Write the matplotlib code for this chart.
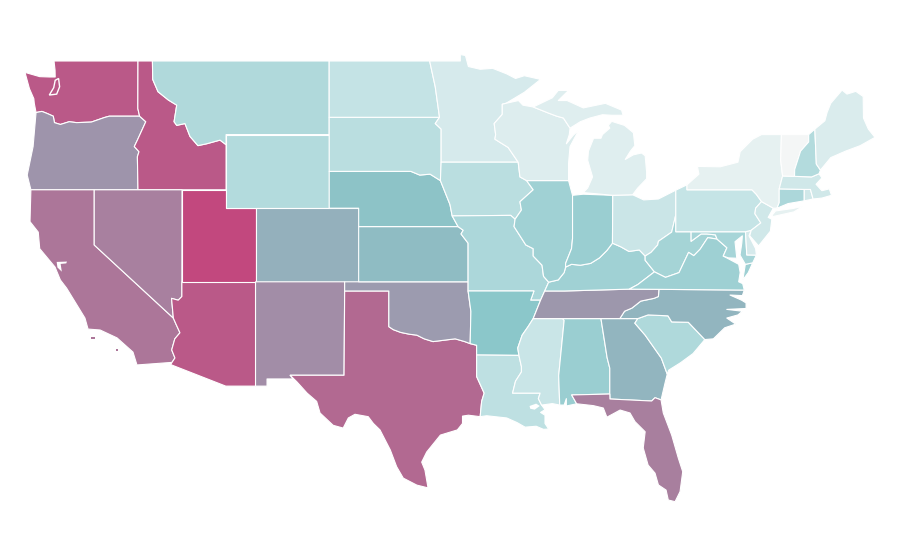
import matplotlib
matplotlib.use("Agg")
import matplotlib.pyplot as plt
from matplotlib.colors import LinearSegmentedColormap

# shared borders, lon/lat
ID_MT = [(-116.05, 49), (-116.03, 48), (-115.67, 47.33), (-114.97, 46.88), (-114.4, 46.6), (-114.58, 45.7),
         (-114.4, 45.5), (-113.84, 45.6), (-113.5, 44.9), (-112.96, 44.4), (-112.37, 44.5), (-111.46, 44.7), (-111.05, 44.45)]
SNAKE = [(-117.04, 46.42), (-116.92, 46.0), (-116.5, 45.7), (-117.07, 44.7), (-117.28, 44.35), (-116.96, 44.07), (-117.07, 43.8), (-117.03, 42)]
COLUMBIA = [(-116.92, 46.0), (-118.98, 46.0), (-119.3, 45.93), (-120.2, 45.68), (-121.2, 45.65), (-121.7, 45.7),
            (-122.3, 45.55), (-122.7, 45.65), (-122.78, 46.0), (-123.2, 46.15), (-123.55, 46.26), (-123.95, 46.2)]
COLORADO_R = [(-114.72, 32.62), (-114.52, 32.86), (-114.74, 33.3), (-114.53, 33.9), (-114.18, 34.23), (-114.45, 34.7), (-114.63, 35.03)]
RED_R = [(-100, 34.56), (-99.7, 34.4), (-99.2, 34.25), (-98.6, 34.15), (-98.1, 34.1), (-97.6, 33.9), (-97.0, 33.75),
         (-96.5, 33.8), (-95.5, 33.9), (-94.85, 33.75), (-94.48, 33.64)]
MISS_S = [(-89.42, 36.5), (-89.7, 36.0), (-90.2, 35.0), (-90.55, 34.56), (-90.95, 34.1), (-91.25, 33.4), (-91.17, 33.0)]
MISS_LA = [(-91.17, 33.0), (-91.0, 32.39), (-91.0, 32.1), (-91.4, 31.6), (-91.6, 30.95)]
MISS_N = [(-91.43, 40.4), (-91.5, 40.0), (-91.1, 39.5), (-90.7, 39.0), (-90.2, 38.8), (-90.2, 38.4), (-89.6, 37.9), (-89.5, 37.3), (-89.15, 36.98)]
OHIO_R = [(-84.82, 39.1), (-85.2, 38.7), (-85.7, 38.3), (-86.3, 38.0), (-87.0, 37.9), (-87.6, 37.95), (-88.0, 37.8), (-88.1, 37.5), (-88.5, 37.1), (-89.15, 36.98)]
OHIO_E = [(-84.82, 39.1), (-84.25, 38.9), (-83.7, 38.65), (-83.0, 38.73), (-82.6, 38.4)]
OHIO_WV = [(-82.6, 38.4), (-82.2, 38.6), (-81.75, 39.0), (-81.7, 39.2), (-80.8, 39.7), (-80.52, 40.64)]
SAVANNAH = [(-83.1, 35), (-83.3, 34.75), (-82.6, 34.1), (-81.5, 32.85), (-81.1, 31.98)]
NC_SC = [(-83.1, 35), (-82.4, 35.2), (-81.05, 35.15), (-80.8, 34.82), (-79.67, 34.8), (-78.55, 33.86)]
NC_TN = [(-84.32, 35), (-84.0, 35.4), (-83.5, 35.57), (-82.9, 35.95), (-82.0, 36.1), (-81.7, 36.2), (-81.67, 36.59)]
WV_VA = [(-77.72, 39.32), (-78.35, 39.4), (-78.87, 38.77), (-79.3, 38.42), (-79.65, 38.6), (-80.3, 37.5), (-81.22, 37.24), (-81.97, 37.54), (-83.1, 36.85), (-83.68, 36.6)]
POTOMAC = [(-79.48, 39.2), (-78.8, 39.6), (-78.4, 39.6), (-77.83, 39.55), (-77.72, 39.32)]
MN_WI = [(-92.05, 46.7), (-92.3, 46.65), (-92.3, 46.1), (-92.85, 45.6), (-92.75, 45.0), (-92.8, 44.75), (-91.9, 44.3), (-91.22, 43.5)]
IA_IL = [(-90.65, 42.5), (-90.2, 42.0), (-91.1, 41.35), (-91.0, 40.9), (-91.43, 40.4)]
MO_NW = [(-94.62, 39.1), (-95.1, 39.6), (-94.95, 39.8), (-95.3, 40.0), (-95.7, 40.58)]
NE_IA = [(-95.7, 40.58), (-95.85, 41.2), (-96.1, 41.7), (-96.5, 42.5)]
SD_MN = [(-96.56, 45.94), (-96.85, 45.6), (-96.45, 45.3), (-96.45, 43.5)]
NE_SD = [(-96.5, 42.5), (-97.2, 42.85), (-97.9, 42.8), (-98.5, 43), (-104.05, 43)]
UP_WI = [(-90.2, 46.5), (-89.1, 46.15), (-88.6, 46.0), (-88.15, 45.9), (-87.7, 45.35)]
DEL_R = [(-75.35, 42), (-75.05, 41.75), (-74.7, 41.36), (-75.1, 41.0), (-75.15, 40.7), (-74.75, 40.2), (-75.4, 39.8)]
SABINE = [(-94.04, 33.02), (-94.04, 31.85), (-93.53, 30.95), (-93.7, 30.5), (-93.75, 30.1), (-93.8, 29.67)]

states = {
    "WA": [[(-122.73, 49), (-117.03, 49), (-117.04, 46.42)] + COLUMBIA + [(-124.07, 46.7), (-124.1, 46.95), (-124.4, 47.5), (-124.7, 48.38),
           (-123.7, 48.15), (-123.0, 48.13), (-122.65, 48.13), (-122.66, 48.5)]],
    "OR": [[(-123.95, 46.2), (-124.15, 44.35), (-124.55, 42.8), (-124.3, 42)] + SNAKE[::-1][:-1] + COLUMBIA[1:]],
    "ID": [[(-117.03, 49)] + ID_MT + [(-111.05, 42)] + SNAKE[::-1]],
    "MT": [ID_MT[::-1] + [(-104.05, 49), (-104.05, 45), (-111.05, 45)]],
    "WY": [[(-111.05, 45), (-104.05, 45), (-104.05, 41), (-111.05, 41)]],
    "CA": [[(-124.3, 42), (-120, 42), (-120, 39)] + COLORADO_R[::-1] + [(-117.1, 32.48), (-117.37, 33.18), (-118.45, 33.95), (-119.6, 34.38), (-120.42, 34.43),
           (-120.63, 35.03), (-121.87, 36.65), (-122.3, 37.1), (-122.66, 37.8), (-123.7, 38.8), (-123.8, 39.7), (-124.36, 40.27)]],
    "NV": [[(-120, 42), (-114.04, 42), (-114.05, 36.2), (-114.3, 36.0), (-114.75, 36.1), (-114.63, 35.03), (-120, 39)]],
    "UT": [[(-114.04, 42), (-111.05, 42), (-111.05, 41), (-109.05, 41), (-109.05, 37), (-114.05, 37)]],
    "AZ": [[(-114.05, 37), (-109.05, 37), (-109.05, 31.33), (-111.07, 31.33), (-114.81, 32.5)] + COLORADO_R + [(-114.75, 36.1), (-114.3, 36.0), (-114.05, 36.2)]],
    "CO": [[(-109.05, 41), (-102.05, 41), (-102.05, 37), (-109.05, 37)]],
    "NM": [[(-109.05, 37), (-103, 37), (-103, 36.5), (-103.04, 31.92), (-106.7, 31.92), (-106.5, 31.72), (-108.27, 31.72), (-108.27, 31.33), (-109.05, 31.33)]],
    "TX": [[(-103, 36.5), (-100, 36.5)] + RED_R + [(-94.04, 33.55)] + SABINE[0:] + [(-94.6, 29.75), (-95.0, 29.7), (-95.0, 29.3), (-95.35, 28.95), (-96.5, 28.67), (-97.43, 27.75), (-97.77, 27.2),
           (-97.55, 26.77), (-97.34, 25.8), (-98.1, 25.95), (-99.02, 26.33), (-99.47, 26.95), (-99.9, 27.86), (-100.6, 28.95), (-101.05, 29.3), (-101.4, 29.67), (-102.3, 29.8),
           (-102.75, 29.6), (-103.1, 29.05), (-103.78, 29.2), (-104.67, 29.87), (-104.9, 30.5), (-105.55, 30.95), (-106.25, 31.57), (-106.7, 31.92), (-103.04, 31.92)]],
    "OK": [[(-103, 37), (-94.62, 37), (-94.62, 36.5), (-94.43, 35.39), (-94.48, 33.64)] + RED_R[::-1] + [(-100, 36.5), (-103, 36.5)]],
    "KS": [[(-102.05, 40), (-95.3, 40), (-94.95, 39.8), (-95.1, 39.6), (-94.62, 39.1), (-94.62, 37), (-102.05, 37)]],
    "NE": [[(-104.05, 43)] + NE_SD[::-1][1:] + NE_IA[::-1] + [(-95.3, 40), (-102.05, 40), (-102.05, 41), (-104.05, 41)]],
    "SD": [[(-104.05, 45.94)] + SD_MN + [(-96.5, 42.5)] + NE_SD],
    "ND": [[(-104.05, 49), (-97.23, 49), (-96.85, 47.6), (-96.56, 45.94), (-104.05, 45.94)]],
    "MN": [[(-97.23, 49), (-95.15, 49), (-95.15, 49.35), (-94.8, 49.3), (-94.6, 48.7), (-93.8, 48.55), (-92.95, 48.6), (-92.0, 48.3), (-91.4, 48.05),
            (-90.8, 48.2), (-89.7, 48.0), (-90.8, 47.3)] + MN_WI + SD_MN[::-1] + [(-96.85, 47.6)]],
    "IA": [[(-96.45, 43.5), (-91.22, 43.5), (-91.1, 42.7)] + IA_IL + [(-91.73, 40.61)] + NE_IA],
    "MO": [[(-95.7, 40.58), (-91.73, 40.61)] + MISS_N + [(-89.42, 36.5), (-89.7, 36.0), (-90.37, 36.0), (-90.15, 36.5), (-94.62, 36.5), (-94.62, 37)] + MO_NW],
    "AR": [[(-94.62, 36.5), (-90.15, 36.5), (-90.37, 36.0)] + MISS_S[1:] + [(-94.04, 33.02), (-94.04, 33.55), (-94.48, 33.64), (-94.43, 35.39)]],
    "LA": [MISS_LA + [(-89.73, 30.95), (-89.85, 30.65), (-89.63, 30.3), (-89.4, 30.05), (-89.7, 29.9), (-89.4, 29.75), (-89.4, 29.3), (-89.15, 29.0), (-89.5, 28.98),
           (-90.0, 29.15), (-90.75, 29.1), (-91.3, 29.35), (-92.0, 29.6), (-93.36, 29.72)] + SABINE[::-1]],
    "MS": [MISS_S[2:] + MISS_LA[1:] + [(-89.73, 30.95), (-89.85, 30.65), (-89.63, 30.3), (-88.9, 30.38), (-88.4, 30.3), (-88.47, 31.9), (-88.1, 34.9), (-88.2, 35)]],
    "AL": [[(-88.2, 35), (-85.6, 35), (-85.18, 32.87), (-85.0, 32.3), (-85.0, 30.9), (-87.59, 30.85), (-87.25, 30.37), (-87.95, 30.25), (-87.95, 30.65),
            (-88.1, 30.3), (-88.4, 30.3), (-88.47, 31.9), (-88.1, 34.9)]],
    "GA": [[(-85.6, 35)] + SAVANNAH + [(-81.25, 31.5), (-81.52, 30.58), (-81.93, 30.7), (-82.16, 30.52), (-84.99, 30.63), (-85.0, 30.9), (-85.0, 32.3), (-85.18, 32.87)]],
    "SC": [NC_SC + [(-79.35, 33.1), (-80.2, 32.6), (-81.0, 32.2), (-81.1, 31.98)] + SAVANNAH[::-1][1:-1]],
    "NC": [NC_TN + [(-75.87, 36.55), (-76.0, 36.25), (-76.84, 36.28), (-76.05, 36.0), (-75.75, 35.85), (-75.75, 35.55), (-77.06, 35.5), (-76.0, 35.4), (-76.3, 35.2), (-77.06, 35.03),
           (-76.45, 34.7), (-77.2, 34.5), (-77.97, 33.9)] + NC_SC[::-1]],
    "FL": [[(-87.59, 30.85), (-85.0, 30.9), (-84.99, 30.63), (-82.16, 30.52), (-81.93, 30.7), (-81.52, 30.58), (-81.37, 29.87), (-80.8, 28.67), (-80.35, 27.42), (-80.05, 26.68),
            (-80.23, 25.6), (-80.57, 25.05), (-81.03, 25.14), (-81.18, 25.68), (-81.7, 25.96), (-81.93, 26.6), (-82.4, 27.04), (-82.73, 27.97), (-82.6, 28.85), (-83.29, 29.4),
            (-83.63, 29.87), (-84.3, 30.03), (-85.2, 29.64), (-85.44, 30.14), (-86.12, 30.27), (-87.25, 30.37)]],
    "TN": [[(-90.2, 35), (-88.2, 35), (-85.6, 35), (-84.32, 35)] + NC_TN[1:] + [(-83.68, 36.6), (-88.07, 36.5), (-89.42, 36.5), (-89.7, 36.0)]],
    "KY": [[(-89.42, 36.5), (-88.07, 36.5), (-83.68, 36.6), (-83.1, 36.85), (-81.97, 37.54), (-82.6, 38.17), (-82.6, 38.4)] + OHIO_E[::-1][1:] + OHIO_R[1:]],
    "IL": [[(-90.65, 42.5), (-87.8, 42.5), (-87.53, 41.7), (-87.53, 39.35), (-87.6, 38.8), (-88.0, 38.0), (-88.0, 37.8), (-88.1, 37.5), (-88.5, 37.1)] + MISS_N[::-1] + IA_IL[::-1][1:]],
    "IN": [[(-87.53, 41.7), (-86.8, 41.76), (-84.8, 41.7)] + OHIO_R[:7] + [(-88.0, 38.0), (-87.6, 38.8), (-87.53, 39.35)]],
    "OH": [[(-84.8, 41.7), (-83.45, 41.73), (-82.7, 41.45), (-81.7, 41.5), (-80.52, 41.98)] + OHIO_WV[::-1] + OHIO_E[::-1][1:]],
    "WI": [MN_WI + [(-91.1, 42.7), (-90.65, 42.5), (-87.8, 42.5), (-87.8, 43.45), (-87.7, 44.35), (-87.1, 45.25), (-87.5, 44.95), (-87.95, 44.5), (-87.75, 45.0)]
           + UP_WI[::-1] + [(-90.9, 46.6), (-91.2, 46.85)]],
    "MI": [[(-86.8, 41.85), (-84.8, 41.7), (-83.45, 41.73), (-83.1, 42.1), (-82.5, 42.6), (-82.5, 42.95), (-82.6, 43.85), (-82.85, 44.0), (-83.4, 43.9), (-83.95, 43.65),
            (-83.6, 44.1), (-83.3, 44.4), (-83.4, 45.1), (-84.0, 45.5), (-84.87, 45.72), (-85.1, 45.5), (-85.0, 45.35), (-85.5, 45.0), (-85.6, 44.8), (-86.1, 44.8),
            (-86.45, 44.1), (-86.5, 43.6), (-86.17, 42.7), (-86.5, 42.1)],
           UP_WI + [(-87.0, 45.7), (-86.35, 45.9), (-85.5, 46.08), (-84.87, 46.05), (-84.1, 46.05), (-84.2, 46.33), (-85.3, 46.7), (-86.8, 46.45), (-87.9, 46.85),
            (-88.5, 46.85), (-87.8, 47.4), (-88.5, 47.4), (-88.9, 47.0)]],
    "WV": [OHIO_WV + [(-80.52, 39.72), (-79.48, 39.72)] + POTOMAC + WV_VA[1:8] + [(-82.6, 38.17)]],
    "VA": [[(-75.87, 36.55), (-81.67, 36.59)] + WV_VA[::-1] + [(-77.05, 38.85), (-77.3, 38.4), (-76.25, 37.95), (-76.15, 37.5), (-76.25, 37.0), (-75.98, 36.9)],
           [(-75.97, 37.1), (-75.8, 37.95), (-75.3, 38.03), (-75.6, 37.5)]],
    "MD": [[(-79.48, 39.72), (-75.79, 39.72), (-75.7, 38.46), (-75.05, 38.45), (-75.3, 38.03), (-75.8, 37.95), (-76.16, 38.45), (-76.04, 39.1), (-76.0, 39.5), (-76.5, 39.18),
            (-76.38, 38.28), (-76.95, 38.3), (-77.3, 38.4), (-77.05, 38.85)] + POTOMAC[::-1]],
    "DE": [[(-75.79, 39.72), (-75.4, 39.8), (-75.55, 39.5), (-75.1, 38.8), (-75.05, 38.45), (-75.7, 38.46)]],
    "PA": [[(-80.52, 41.98), (-79.76, 42.27), (-79.76, 42)] + DEL_R + [(-75.79, 39.72), (-80.52, 39.72)]],
    "NJ": [[(-74.7, 41.36), (-73.9, 41.0), (-74.25, 40.5), (-74.0, 40.4), (-74.1, 39.75), (-74.9, 38.95), (-75.5, 39.5)] + DEL_R[:2:-1]],
    "NY": [[(-79.76, 42.27), (-78.95, 42.85), (-79.05, 43.27), (-77.5, 43.25), (-76.3, 43.5), (-76.15, 44.07), (-75.3, 44.75), (-74.7, 45.0), (-73.35, 45), (-73.4, 43.6), (-73.27, 42.75),
            (-73.5, 42.05), (-73.5, 41.3), (-73.65, 41.0), (-73.9, 41.0), (-74.7, 41.36), (-75.05, 41.75), (-75.35, 42), (-79.76, 42)],
           [(-74.0, 40.6), (-73.75, 40.85), (-72.6, 40.98), (-71.9, 41.1), (-72.5, 40.8), (-73.9, 40.55)]],
    "CT": [[(-73.5, 42.05), (-71.8, 42.02), (-71.8, 41.4), (-72.9, 41.25), (-73.65, 41.0), (-73.5, 41.3)]],
    "RI": [[(-71.8, 42.02), (-71.38, 42.02), (-71.2, 41.5), (-71.8, 41.4)]],
    "MA": [[(-73.5, 42.05), (-73.27, 42.75), (-72.46, 42.73), (-71.3, 42.7), (-70.8, 42.87), (-70.6, 42.65), (-71.0, 42.3), (-70.6, 41.95), (-70.1, 42.05), (-69.95, 41.7), (-70.6, 41.55),
            (-71.2, 41.5), (-71.38, 42.02), (-71.8, 42.02)]],
    "VT": [[(-73.35, 45), (-71.5, 45), (-71.5, 44.6), (-72.05, 44.1), (-72.45, 43.1), (-72.46, 42.73), (-73.27, 42.75), (-73.4, 43.6)]],
    "NH": [[(-71.5, 45), (-71.08, 45.3), (-70.98, 43.4), (-70.7, 43.07), (-70.8, 42.87), (-71.3, 42.7), (-72.46, 42.73), (-72.45, 43.1), (-72.05, 44.1), (-71.5, 44.6)]],
    "ME": [[(-71.08, 45.3), (-70.4, 45.75), (-70.25, 46.2), (-70.0, 46.7), (-69.23, 47.42), (-68.9, 47.2), (-68.3, 47.35), (-67.8, 47.07), (-67.78, 45.9), (-67.45, 45.3), (-67.0, 44.85),
            (-68.0, 44.4), (-69.0, 44.1), (-70.0, 43.75), (-70.7, 43.07), (-70.98, 43.4)]],
}

state_codes = ["WA", "OR", "CA", "ID", "NV", "AZ", "UT", "MT", "WY", "CO", "NM", "TX", "OK", "KS", "NE", "SD", "ND", "MN", "IA", "MO", "AR",
               "LA", "MS", "AL", "GA", "FL", "SC", "NC", "TN", "KY", "IL", "IN", "OH", "WI", "MI", "WV", "VA", "MD", "DE", "PA", "NJ", "NY", "CT", "RI", "MA", "VT", "NH", "ME"]
state_values = [0.93, 0.70, 0.82, 0.93, 0.78, 0.93, 1.00, 0.295, 0.28, 0.565, 0.73, 0.87, 0.67, 0.505, 0.47, 0.25, 0.21, 0.13, 0.25, 0.31, 0.45,
                0.235, 0.19, 0.39, 0.54, 0.785, 0.30, 0.54, 0.69, 0.36, 0.36, 0.39, 0.185, 0.10, 0.09, 0.34, 0.37, 0.33, 0.13, 0.205, 0.16, 0.06, 0.31, 0.16, 0.16, 0.0, 0.28, 0.115]

# water cut out of the land
lake_pontchartrain = [(-90.45, 30.25), (-90.0, 30.38), (-89.75, 30.25), (-90.1, 30.05), (-90.4, 30.1)]
sf_bay = [(-122.55, 38.08), (-121.85, 38.1), (-121.9, 38.0), (-122.28, 37.97), (-122.2, 37.55), (-122.5, 37.78)]
puget_sound = [(-122.42, 48.05), (-122.35, 47.6), (-122.55, 47.2), (-123.05, 47.15), (-122.75, 47.55), (-122.65, 47.95)]
islands_ca = [[(-120.2, 34.0), (-119.95, 34.0), (-119.95, 33.9), (-120.2, 33.9)],
              [(-118.55, 33.35), (-118.4, 33.35), (-118.4, 33.25), (-118.55, 33.25)]]

cmap = LinearSegmentedColormap.from_list(
    "teal_pink", [(0, "#f4f6f6"), (0.2, "#c6e4e6"), (0.45, "#8bc7ca"), (0.7, "#9e95ab"), (1, "#c2487e")])

fig = plt.figure(figsize=(9, 5.6), dpi=100)
ax = fig.add_axes([0, 0, 1, 1])
for code, value in zip(state_codes, state_values):
    for outline in states[code]:
        xs, ys = zip(*outline)
        ax.fill(xs, ys, facecolor=cmap(value), edgecolor="white", linewidth=0.8, joinstyle="round")

for outline in [lake_pontchartrain, sf_bay]:
    xs, ys = zip(*outline)
    ax.fill(xs, ys, facecolor="white", edgecolor="none")
xs, ys = zip(*puget_sound)
ax.fill(xs, ys, facecolor="none", edgecolor="white", linewidth=1.0)
for outline in islands_ca:
    xs, ys = zip(*outline)
    ax.fill(xs, ys, facecolor=cmap(state_values[state_codes.index("CA")]), edgecolor="none")

ax.set_xlim(-126.397, -65.30)
ax.set_ylim(21.88, 52.315)
ax.axis("off")
fig.savefig("out.png", dpi=100)
